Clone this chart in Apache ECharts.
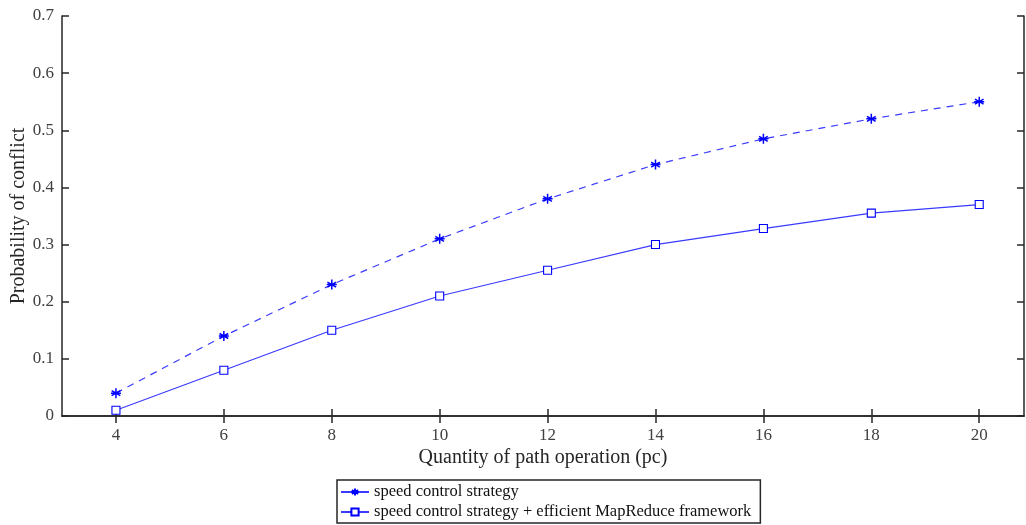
<!DOCTYPE html>
<html><head><meta charset="utf-8">
<script src="https://cdn.jsdelivr.net/npm/echarts@6/dist/echarts.min.js"></script>
<style>html,body{margin:0;padding:0;background:#fff}#c{width:1026px;height:525px}</style>
</head><body><div id="c"></div>
<script>
const xValues = [4, 6, 8, 10, 12, 14, 16, 18, 20];
const speedControl = [0.04, 0.14, 0.23, 0.31, 0.38, 0.44, 0.485, 0.52, 0.55];
const speedControlMapReduce = [0.01, 0.08, 0.15, 0.21, 0.255, 0.30, 0.328, 0.355, 0.37];
const xTicks = [4, 6, 8, 10, 12, 14, 16, 18, 20];
const seriesNames = ['speed control strategy', 'speed control strategy + efficient MapReduce framework'];

const font = 'Liberation Serif';
const axisCol = '#262626';
const asterisk = 'path://M0,-10L0,10M-8.66,-5L8.66,5M-8.66,5L8.66,-5M-10,0L10,0';

const chart = echarts.init(document.getElementById('c'));
const baseX = {
  type: 'value', min: 3, max: 20.83,
  axisLine: { show: true, lineStyle: { color: axisCol, width: 1.5 } },
  axisTick: { show: true, inside: true, length: 7, customValues: xTicks, lineStyle: { color: axisCol, width: 1.5 } },
  splitLine: { show: false }
};
const baseY = {
  type: 'value', min: 0, max: 0.7, interval: 0.1,
  axisLine: { show: true, lineStyle: { color: axisCol, width: 1.5 } },
  axisTick: { show: true, inside: true, length: 7, lineStyle: { color: axisCol, width: 1.5 } },
  splitLine: { show: false }
};
chart.setOption({
  backgroundColor: '#fff',
  animation: false,
  textStyle: { fontFamily: font },
  grid: { left: 62, right: 2, top: 16, bottom: 109, containLabel: false, outerBoundsMode: 'none' },
  legend: {
    orient: 'vertical', left: 337, top: 480,
    data: seriesNames.map(n => ({ name: n, lineStyle: { type: 'solid' } })),
    itemWidth: 28, itemHeight: 9, itemGap: 2,
    padding: [3, 9, 2, 3],
    borderColor: '#262626', borderWidth: 1.5,
    textStyle: { fontFamily: font, fontSize: 16.5, color: '#111', lineHeight: 18 }
  },
  xAxis: [
    Object.assign({}, baseX, {
      position: 'bottom',
      name: 'Quantity of path operation (pc)', nameLocation: 'middle', nameGap: 32, nameMoveOverlap: false,
      nameTextStyle: { fontFamily: font, fontSize: 20, color: '#262626' },
      axisLabel: { show: true, customValues: xTicks, margin: 11, fontFamily: font, fontSize: 17, color: '#404040' }
    }),
    Object.assign({}, baseX, { position: 'top', axisLabel: { show: false } })
  ],
  yAxis: [
    Object.assign({}, baseY, {
      position: 'left',
      name: 'Probability of conflict', nameLocation: 'middle', nameGap: 33, nameMoveOverlap: false,
      nameTextStyle: { fontFamily: font, fontSize: 20, color: '#262626' },
      axisLabel: { show: true, margin: 8, fontFamily: font, fontSize: 17, color: '#404040' }
    }),
    Object.assign({}, baseY, { position: 'right', axisLabel: { show: false } })
  ],
  series: [
    {
      name: seriesNames[0], type: 'line', xAxisIndex: 0, yAxisIndex: 0,
      data: xValues.map((x, i) => [x, speedControl[i]]),
      symbol: asterisk, symbolSize: 10,
      lineStyle: { color: '#3a3aff', width: 1.2, type: [7, 6] },
      itemStyle: { color: 'none', borderColor: '#0000ff', borderWidth: 1.5 }
    },
    {
      name: seriesNames[1], type: 'line', xAxisIndex: 0, yAxisIndex: 0,
      data: xValues.map((x, i) => [x, speedControlMapReduce[i]]),
      symbol: 'rect', symbolSize: 8,
      lineStyle: { color: '#3a3aff', width: 1.2, type: 'solid' },
      itemStyle: { color: '#fff', borderColor: '#0000ff', borderWidth: 1.1 }
    }
  ]
});
</script></body></html>
